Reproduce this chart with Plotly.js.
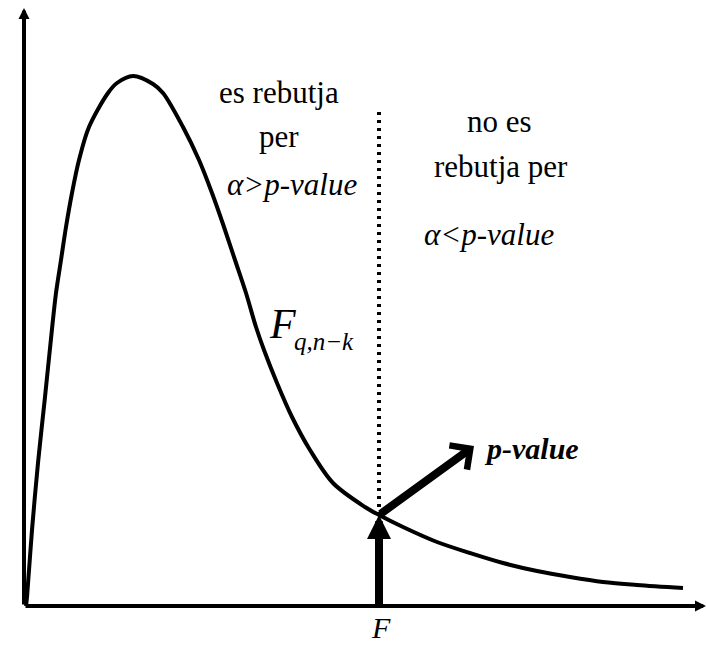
<!DOCTYPE html>
<html>
<head>
<meta charset="utf-8">
<script src="https://cdn.plot.ly/plotly-3.0.1.min.js"></script>
<style>html,body{margin:0;padding:0;background:#fff;}#chart{width:706px;height:645px;}</style>
</head>
<body>
<div id="chart"></div>
<script>
// F-distribution density curve (arbitrary units)
const curveX = [0.02,0.03,0.08,0.14,0.21,0.28,0.32,0.37,0.42,0.48,0.55,0.65,0.84,0.93,1.09,1.29,1.39,1.59,1.75,1.88,2.00,2.11,2.22,2.32,2.40,2.53,2.68,2.86,3.09,3.41,3.55,3.79,4.13,4.46,4.79,5.13,5.46,5.79,6.13,6.59];
const curveY = [0.00,0.09,0.76,1.43,2.09,2.77,3.13,3.46,3.79,4.13,4.46,4.79,5.13,5.23,5.30,5.22,5.13,4.79,4.46,4.13,3.79,3.46,3.13,2.79,2.56,2.23,1.89,1.56,1.23,0.99,0.91,0.79,0.64,0.53,0.43,0.35,0.29,0.24,0.21,0.18];
const fValue = 3.55;          // observed F statistic
const fDensity = 0.91;        // curve height at F
const dottedTop = 4.94;       // top of the dotted divider
const pValueTip = [4.50, 1.60];
const axisEndX = 6.82;
const axisEndY = 5.98;

const labelsLeft = ["es rebutja", "per", "<i>α>p-value</i>"];
const labelsRight = ["no es", "rebutja per", "<i>α<p-value</i>"];
const curveLabel = "<i>F</i>";
const curveSub = "<i>q,n−k</i>";
const arrowLabel = "<b><i>p-value</i></b>";
const xLabel = "<i>F</i>";

const serif = "Liberation Serif, Times New Roman, serif";
const f31 = {family: serif, size: 31, color: "#000"};

const trace = {
  x: curveX, y: curveY, type: "scatter", mode: "lines",
  line: {color: "#000", width: 4, shape: "spline", smoothing: 0.9},
  hoverinfo: "skip"
};

function arrow(x, y, ax, ay, w, head, size) {
  return {x: x, y: y, ax: ax, ay: ay, xref: "x", yref: "y", axref: "x", ayref: "y",
    text: "", showarrow: true, arrowhead: head, arrowsize: size, arrowwidth: w,
    arrowcolor: "#000", standoff: 0, startstandoff: 0};
}
function label(text, x, y, font, xanchor, yanchor) {
  return {x: x, y: y, xref: "x", yref: "y", text: text, showarrow: false,
    font: font, xanchor: xanchor || "center", yanchor: yanchor || "middle", borderpad: 0};
}

const annotations = [
  arrow(0, axisEndY, 0, 0, 4, 2, 0.55),
  arrow(axisEndX, 0, 0, 0, 4, 2, 0.55),
  arrow(fValue, fDensity, fValue, 0, 8, 2, 0.6),
  arrow(pValueTip[0], pValueTip[1], fValue, fDensity, 8, 4, 0.72),
  label(labelsLeft[0], 2.55, 5.135, f31),
  label(labelsLeft[1], 2.55, 4.695, f31),
  label(labelsLeft[2], 2.68, 4.215, f31),
  label(labelsRight[0], 4.75, 4.845, f31),
  label(labelsRight[1], 4.77, 4.395, f31),
  label(labelsRight[2], 4.65, 3.715, f31),
  label(curveLabel, 2.44, 2.822, {family: serif, size: 42, color: "#000"}, "left"),
  label(curveSub, 2.69, 2.644, {family: serif, size: 25, color: "#000"}, "left"),
  label(arrowLabel, 4.59, 1.58, {family: serif, size: 30, color: "#000"}, "left"),
  label(xLabel, 3.57, -0.385, {family: serif, size: 30, color: "#000"}, "center", "bottom")
];

const layout = {
  width: 706, height: 645,
  margin: {l: 0, r: 0, t: 0, b: 0, pad: 0},
  paper_bgcolor: "#fff", plot_bgcolor: "#fff",
  showlegend: false,
  xaxis: {range: [-0.24, 6.82], visible: false, fixedrange: true},
  yaxis: {range: [-0.39, 6.06], visible: false, fixedrange: true},
  shapes: [{type: "line", xref: "x", yref: "y", x0: fValue, x1: fValue, y0: fDensity, y1: dottedTop,
    line: {color: "#000", width: 4, dash: "3px,5px"}}],
  annotations: annotations
};

Plotly.newPlot("chart", [trace], layout, {displayModeBar: false, staticPlot: true});
</script>
</body>
</html>
